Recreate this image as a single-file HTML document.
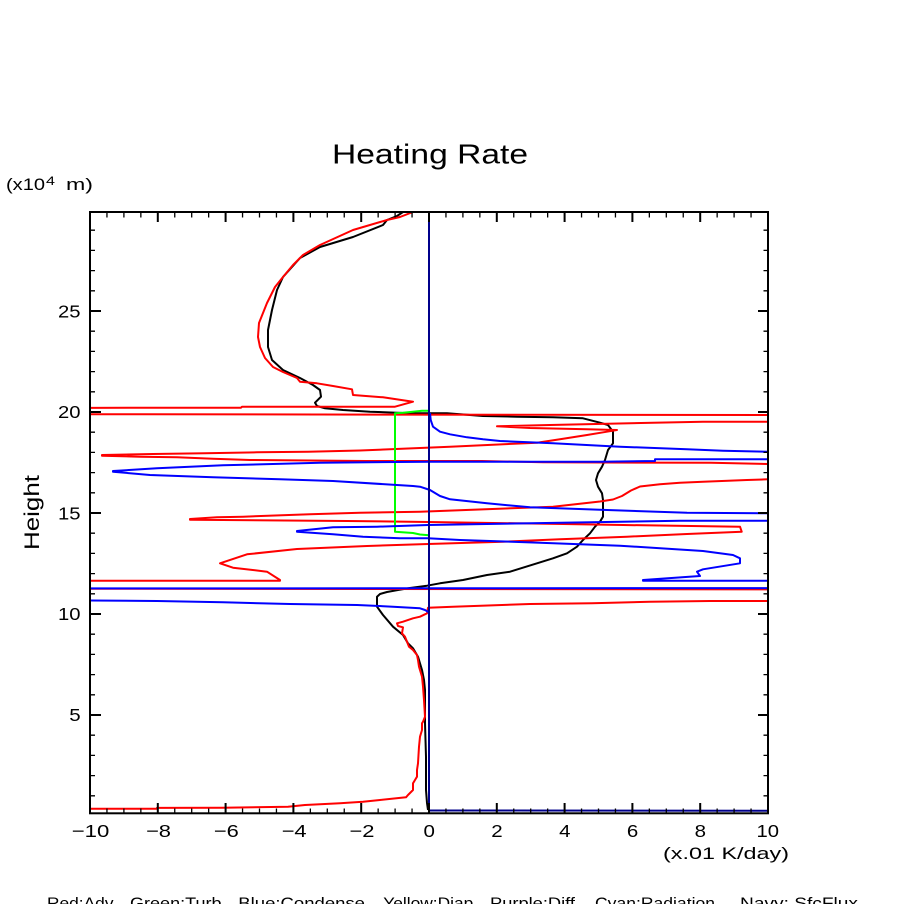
<!DOCTYPE html>
<html>
<head>
<meta charset="utf-8">
<style>
  html, body { margin: 0; padding: 0; background: #ffffff; }
  body { width: 904px; height: 904px; overflow: hidden; }
  svg { display: block; }
  text { font-family: "Liberation Sans", "DejaVu Sans", sans-serif; fill: #000; }
</style>
</head>
<body>
<svg width="904" height="904" viewBox="0 0 904 904" xmlns="http://www.w3.org/2000/svg">
  <defs>
    <clipPath id="plot">
      <rect x="90" y="212" width="678" height="601"/>
    </clipPath>
  </defs>
  <rect x="0" y="0" width="904" height="904" fill="#ffffff"/>

  <!-- Title -->
  <text x="332" y="163.5" font-size="28" textLength="196" lengthAdjust="spacingAndGlyphs">Heating Rate</text>

  <!-- y unit -->
  <text x="6" y="190" font-size="16.5" textLength="39" lengthAdjust="spacingAndGlyphs">(x10</text>
  <text x="46" y="185" font-size="12" textLength="9" lengthAdjust="spacingAndGlyphs">4</text>
  <text x="66" y="190" font-size="16.5" textLength="27" lengthAdjust="spacingAndGlyphs">m)</text>

  <!-- y axis title -->
  <text transform="translate(39,550) rotate(-90)" x="0" y="0" font-size="21" textLength="75" lengthAdjust="spacingAndGlyphs">Height</text>

  <!-- Data series -->
  <g clip-path="url(#plot)" fill="none" stroke-width="2" stroke-linejoin="round">
    <!-- Black (total) -->
    <polyline stroke="#000000" points="403,212 397,216 387,220 383,225 353,237 320,247 300,258 283,277 277,290 272,310 268,330 268,347 272,360 283,370 300,378 313,385 320,390 321,396.7 315,402.7 317,406 325,408.3 343,410 370,411.7 397,412.7 413,413.3 447,413.3 483,416 517,416.7 553,417.3 583,418.3 600,422.7 608,425 613,431.7 613,443.3 608,450 605,460 602,466.7 598,473.3 596,480 598,486.7 602,493.3 603,500 603,516.7 600,521.7 595,526.7 590,533.3 583,540 577,546.7 567,553.3 553,558.3 537,563.3 510,571.7 487,575 463,580 440,583.3 427,585.7 410,588 398,590 387,592 380,594 377,596.7 377,606.7 383,615 393,626.7 403,635 408,643.3 413,648.3 418,656.7 422,670 424,680 425,690 425,723 426,757 426,790 427,803 428,810"/>

    <!-- Red (Adv) -->
    <polyline stroke="#ff0000" points="413,212 400,217 387,220 353,230 320,245 303,255 293,265 283,277 275,287 267,303 263,313 259,323 258,337 260,347 265,358 273,367 283,372 297,378 300,381.7 317,383.3 333,386 352,389.3 353,395 383,397.3 413,401.7 395,406.7 242,406.7 241,407.7 -100,408 -100,414 143,414.3 768,415 900,415.3 900,421.7 768,421.7 703,421.7 653,422.7 550,425 497,426.3 530,428 587,429.3 617,430 607,431.7 587,435 560,439.3 537,442.7 450,446.7 420,448 360,450.5 308,451.7 257,452.3 205,453.3 153,454 102,455 102,455.7 140,456.7 177,457.3 213,458.7 250,460 366,461 482,461 543,462.3 711,462.8 768,464 900,464.5 900,479.3 768,479.3 747,480 703,481.7 680,482.7 660,484.3 640,486.5 631,490.5 622,496 613,499.5 600,501.5 553,506.7 420,511.7 360,512.7 310,514.3 243,516.7 217,517.3 190,519 190,519.7 347,521 428,522 563,524 623,525 740,526.7 741.7,531.7 687,534 627,536.7 560,539.3 503,541.7 428,544 367,546 297,549 247,554.3 220,563.3 233,567.7 267,571.7 280,580 280,580.7 90,580.7 -100,581 -100,588.5 900,589.5 900,601 768,601 710,601 650,601.7 592,603.3 530,604 453,606.7 428,607.8 427,613.3 420,616.7 413,618.3 403,621.7 397,623.3 398,626 403,627.3 402,633.3 405,636.7 407,641.7 409,646.7 413,650 417,655 418,660 419,666.7 422,676.7 423,686.7 424,700 425,716.7 423,721.7 422,723.3 422,730 420,736.7 419,746.7 418,763.3 417,770 417,776.7 415,780 413,783.3 413,790 408,795 406,797.3 380,800 363,801.7 340,803.3 305,805 288,806.7 222,807.7 157,807.9 157,808.7 90,808.7 -100,809"/>

    <!-- Green (Turb) -->
    <polyline stroke="#00ff00" points="429,410.7 422,410.7 413,411.7 403,412.7 395,413.3 395,531.7 413,533 420,534.5 429,535.3"/>

    <!-- Blue (Condense) -->
    <polyline stroke="#0000ff" points="430,413 430.7,420 433,426.7 440,431.7 450,434.3 467,437.3 483,439.3 500,441 553,443.3 620,446.7 687,449.3 723,450.7 768,451.7 900,452 900,459.3 768,459.3 655,459.3 655,461 600,461.7 500,461.7 430,461.7 320,462.7 223,465.3 157,468.3 113,471 113,471.7 150,475 213,477.3 280,479.3 333,481 413,486 420,486.7 430,490 440,496 450,499.3 487,503.3 530,507.3 607,510 687,512.7 768,513.3 900,514 900,520.7 768,520.7 680,520.7 428,525 377,526.7 333,527.3 297,531 297,531.7 333,534.3 363,536.7 400,538.3 428,538.3 460,540 540,542.7 620,545.7 703,551 733,555 740,558.3 740,563.3 703,569.3 697,571.7 700,576 643,580 643,580.7 768,580.7 900,581 900,588 -100,588.5 -100,600.5 90,600.5 157,601 223,602.3 290,604 357,605 393,606.7 420,608.3 425,610 428,611.7 429,613 429,810"/>

    <!-- Navy (SfcFlux) -->
    <polyline stroke="#00008b" points="429,212 429,810.5 768,810.7"/>
  </g>

  <!-- Frame -->
  <rect x="90" y="212" width="678" height="601.3" fill="none" stroke="#000" stroke-width="2"/>

  <!-- X ticks -->
  <g stroke="#000" stroke-width="1.3">
    <path d="
    M106.95,813v-4.5 M123.9,813v-4.5 M140.85,813v-4.5 M174.75,813v-4.5 M191.7,813v-4.5 M208.65,813v-4.5
    M242.55,813v-4.5 M259.5,813v-4.5 M276.45,813v-4.5 M310.35,813v-4.5 M327.3,813v-4.5 M344.25,813v-4.5
    M378.15,813v-4.5 M395.1,813v-4.5 M412.05,813v-4.5 M445.95,813v-4.5 M462.9,813v-4.5 M479.85,813v-4.5
    M513.75,813v-4.5 M530.7,813v-4.5 M547.65,813v-4.5 M581.55,813v-4.5 M598.5,813v-4.5 M615.45,813v-4.5
    M649.35,813v-4.5 M666.3,813v-4.5 M683.25,813v-4.5 M717.15,813v-4.5 M734.1,813v-4.5 M751.05,813v-4.5
    M106.95,212v5.5 M123.9,212v5.5 M140.85,212v5.5 M174.75,212v5.5 M191.7,212v5.5 M208.65,212v5.5
    M242.55,212v5.5 M259.5,212v5.5 M276.45,212v5.5 M310.35,212v5.5 M327.3,212v5.5 M344.25,212v5.5
    M378.15,212v5.5 M395.1,212v5.5 M412.05,212v5.5 M445.95,212v5.5 M462.9,212v5.5 M479.85,212v5.5
    M513.75,212v5.5 M530.7,212v5.5 M547.65,212v5.5 M581.55,212v5.5 M598.5,212v5.5 M615.45,212v5.5
    M649.35,212v5.5 M666.3,212v5.5 M683.25,212v5.5 M717.15,212v5.5 M734.1,212v5.5 M751.05,212v5.5
    "/>
  </g>
  <g stroke="#000" stroke-width="2">
    <path d="
    M157.8,813v-10 M225.6,813v-10 M293.4,813v-10 M361.2,813v-10 M429,813v-10 M496.8,813v-10 M564.6,813v-10 M632.4,813v-10 M700.2,813v-10
    M157.8,212v10 M225.6,212v10 M293.4,212v10 M361.2,212v10 M429,212v10 M496.8,212v10 M564.6,212v10 M632.4,212v10 M700.2,212v10
    "/>
  </g>

  <!-- Y ticks: y(h) = 715 - (h-5)*20.2 -->
  <g stroke="#000" stroke-width="1.3">
    <path d="
    M90,795.8h5 M90,775.6h5 M90,755.4h5 M90,735.2h5
    M90,694.8h5 M90,674.6h5 M90,654.4h5 M90,634.2h5
    M90,593.8h5 M90,573.6h5 M90,553.4h5 M90,533.2h5
    M90,492.8h5 M90,472.6h5 M90,452.4h5 M90,432.2h5
    M90,391.8h5 M90,371.6h5 M90,351.4h5 M90,331.2h5
    M90,290.8h5 M90,270.6h5 M90,250.4h5 M90,230.2h5
    M768,795.8h-4.5 M768,775.6h-4.5 M768,755.4h-4.5 M768,735.2h-4.5
    M768,694.8h-4.5 M768,674.6h-4.5 M768,654.4h-4.5 M768,634.2h-4.5
    M768,593.8h-4.5 M768,573.6h-4.5 M768,553.4h-4.5 M768,533.2h-4.5
    M768,492.8h-4.5 M768,472.6h-4.5 M768,452.4h-4.5 M768,432.2h-4.5
    M768,391.8h-4.5 M768,371.6h-4.5 M768,351.4h-4.5 M768,331.2h-4.5
    M768,290.8h-4.5 M768,270.6h-4.5 M768,250.4h-4.5 M768,230.2h-4.5
    "/>
  </g>
  <g stroke="#000" stroke-width="2">
    <path d="
    M90,715h11 M90,614h11 M90,513h11 M90,412h11 M90,311h11
    M768,715h-10 M768,614h-10 M768,513h-10 M768,412h-10 M768,311h-10
    "/>
  </g>

  <!-- Y tick labels -->
  <g font-size="17.5">
    <text x="69.3" y="720.8" textLength="11.4" lengthAdjust="spacingAndGlyphs">5</text>
    <text x="58" y="620" textLength="22.5" lengthAdjust="spacingAndGlyphs">10</text>
    <text x="58" y="519.4" textLength="22.5" lengthAdjust="spacingAndGlyphs">15</text>
    <text x="58" y="418" textLength="22.5" lengthAdjust="spacingAndGlyphs">20</text>
    <text x="58" y="317.7" textLength="22.5" lengthAdjust="spacingAndGlyphs">25</text>
  </g>

  <!-- X tick labels -->
  <g font-size="17.5">
    <text x="71.7" y="836.8" textLength="37.6" lengthAdjust="spacingAndGlyphs">−10</text>
    <text x="146" y="836.8" textLength="25" lengthAdjust="spacingAndGlyphs">−8</text>
    <text x="213.8" y="836.8" textLength="25" lengthAdjust="spacingAndGlyphs">−6</text>
    <text x="281.6" y="836.8" textLength="25" lengthAdjust="spacingAndGlyphs">−4</text>
    <text x="349.4" y="836.8" textLength="25" lengthAdjust="spacingAndGlyphs">−2</text>
    <text x="423.5" y="836.8" textLength="11.4" lengthAdjust="spacingAndGlyphs">0</text>
    <text x="491.3" y="836.8" textLength="11.4" lengthAdjust="spacingAndGlyphs">2</text>
    <text x="559.1" y="836.8" textLength="11.4" lengthAdjust="spacingAndGlyphs">4</text>
    <text x="626.9" y="836.8" textLength="11.4" lengthAdjust="spacingAndGlyphs">6</text>
    <text x="694.7" y="836.8" textLength="11.4" lengthAdjust="spacingAndGlyphs">8</text>
    <text x="756.5" y="836.8" textLength="22.5" lengthAdjust="spacingAndGlyphs">10</text>
  </g>

  <!-- X unit -->
  <text x="663" y="859" font-size="16.5" textLength="126" lengthAdjust="spacingAndGlyphs">(x.01 K/day)</text>

  <!-- Legend (partially cut off at bottom) -->
  <g font-size="16">
    <text x="47" y="908.5" textLength="66.5" lengthAdjust="spacingAndGlyphs">Red:Adv</text>
    <text x="130" y="908.5" textLength="91.5" lengthAdjust="spacingAndGlyphs">Green:Turb</text>
    <text x="238.3" y="908.5" textLength="126.7" lengthAdjust="spacingAndGlyphs">Blue:Condense</text>
    <text x="383.3" y="908.5" textLength="90" lengthAdjust="spacingAndGlyphs">Yellow:Diap</text>
    <text x="490" y="908.5" textLength="85" lengthAdjust="spacingAndGlyphs">Purple:Diff</text>
    <text x="595" y="908.5" textLength="120" lengthAdjust="spacingAndGlyphs">Cyan:Radiation</text>
    <text x="740" y="908.5" textLength="118" lengthAdjust="spacingAndGlyphs">Navy: SfcFlux</text>
  </g>
</svg>
</body>
</html>
